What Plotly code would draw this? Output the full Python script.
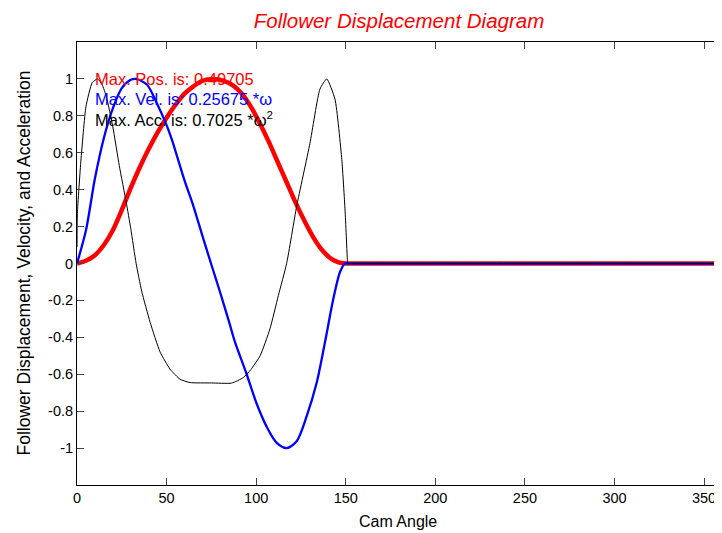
import plotly.graph_objects as go

# Cam angle (deg) and normalised curves
dwell_x = [152, 160, 180, 200, 230, 260, 290, 320, 340, 360]
dwell_y = [0, 0, 0, 0, 0, 0, 0, 0, 0, 0]

pos_x = [0, 5, 10, 15, 20, 25, 30, 35, 40, 45, 50, 55, 60, 65, 70, 76, 82, 87, 92,
         97, 102, 107, 112, 117, 122, 127, 132, 137, 142, 146, 150] + dwell_x
pos_y = [0, 0.015, 0.045, 0.1, 0.18, 0.29, 0.41, 0.52, 0.62, 0.71, 0.79, 0.86, 0.92,
         0.96, 0.99, 1.0, 0.99, 0.965, 0.92, 0.85, 0.76, 0.66, 0.55, 0.44, 0.33, 0.23,
         0.14, 0.07, 0.025, 0.006, 0.0] + dwell_y

vel_x = [0, 5, 10, 15, 20, 25, 30, 33, 39, 44.5, 50, 53, 60, 65, 70, 74.8, 80, 85, 88,
         94.7, 100.3, 105.9, 111.5, 117, 122.6, 128.2, 133.8, 138.4, 143.1, 146.8,
         149.6] + dwell_x
vel_y = [0, 0.18, 0.46, 0.68, 0.84, 0.95, 0.995, 1.0, 0.97, 0.87, 0.75, 0.67, 0.45, 0.31,
         0.15, 0.0, -0.16, -0.32, -0.42, -0.6, -0.76, -0.885, -0.972, -1.0, -0.963,
         -0.827, -0.645, -0.427, -0.19, -0.046, 0.0] + dwell_y

acc_x = [0, 0.2, 2.2, 5, 8.5, 11.5, 14, 16.5, 20, 23.6, 27.5, 30, 33, 36.1, 40.8,
         46.4, 51.9, 57.5, 63.1, 75, 86.3, 92.8, 97, 102.2, 107.7, 112.4, 117, 122.6,
         130, 135.6, 139.4, 144, 147.8, 149.6, 150.9, 151] + dwell_x
acc_y = [0.09, 0.27, 0.56, 0.85, 0.98, 1.0, 0.97, 0.9, 0.74, 0.53, 0.33, 0.19, 0.0,
         -0.15, -0.318, -0.48, -0.572, -0.627, -0.645, -0.647, -0.648, -0.618, -0.575,
         -0.5, -0.354, -0.173, 0.0, 0.31, 0.65, 0.945, 1.0, 0.89, 0.563, 0.29, 0.018,
         0.0] + dwell_y

x_ticks = [0, 50, 100, 150, 200, 250, 300, 350]
y_ticks = [-1, -0.8, -0.6, -0.4, -0.2, 0, 0.2, 0.4, 0.6, 0.8, 1]
y_tick_text = ["-1", "-0.8", "-0.6", "-0.4", "-0.2", "0", "0.2", "0.4", "0.6", "0.8", "1"]

info_lines = ["Max. Pos. is: 0.49705", "Max. Vel. is: 0.25675 *ω",
              "Max. Acc. is: 0.7025 *ω<sup>2</sup>"]
info_colors = ["#ff0000", "#0000ff", "#000000"]
info_y = [1.0, 0.89, 0.785]

FONT = "Liberation Sans, Arial"
PAGE_OFFSET = 8  # default body margin of the html page
W, H = 722 - PAGE_OFFSET, 533 - PAGE_OFFSET

fig = go.Figure()
fig.add_trace(go.Scatter(x=pos_x, y=pos_y, mode="lines",
                         line=dict(color="#ff0000", width=4.5, shape="spline", smoothing=0.8)))
fig.add_trace(go.Scatter(x=vel_x, y=vel_y, mode="lines",
                         line=dict(color="#0000ff", width=2.3, shape="spline", smoothing=0.8)))
fig.add_trace(go.Scatter(x=acc_x, y=acc_y, mode="lines",
                         line=dict(color="#000000", width=1, shape="spline", smoothing=0.5)))

for txt, col, yy in zip(info_lines, info_colors, info_y):
    fig.add_annotation(x=9, y=yy, xref="x", yref="y", text=txt, showarrow=False,
                       xanchor="left", yanchor="middle",
                       font=dict(family=FONT, size=16.5, color=col))

# axis titles
fig.add_annotation(x=(398 - 77) / 645, y=(485 - 521) / 443, xref="paper", yref="paper",
                   text="Cam Angle", showarrow=False, xanchor="center", yanchor="middle",
                   font=dict(family=FONT, size=16, color="#000000"))
fig.add_annotation(x=(23 - 77) / 645, y=0.5, xref="paper", yref="paper",
                   text="Follower Displacement, Velocity, and Acceleration",
                   showarrow=False, textangle=-90, xanchor="center", yanchor="middle",
                   font=dict(family=FONT, size=17.5, color="#000000"))

fig.update_layout(
    width=W, height=H,
    margin=dict(l=77 - PAGE_OFFSET, r=0, t=42 - PAGE_OFFSET, b=533 - 485),
    paper_bgcolor="white", plot_bgcolor="white",
    showlegend=False,
    font=dict(family=FONT, size=14.5, color="#000000"),
    title=dict(text="<i>Follower Displacement Diagram</i>", x=(399 - PAGE_OFFSET) / W,
               xanchor="center", y=1 - (21 - PAGE_OFFSET) / H, yanchor="middle",
               yref="container",
               font=dict(family=FONT, size=20.5, color="#ff0000")),
)
fig.update_xaxes(range=[0, 360], tickvals=x_ticks, ticks="inside", ticklen=7,
                 showline=True, linecolor="black", linewidth=1, mirror="ticks",
                 showgrid=False, zeroline=False, automargin=False,
                 tickfont=dict(size=14.5))
fig.update_yaxes(range=[-1.2, 1.2], tickvals=y_ticks, ticktext=y_tick_text,
                 ticks="inside", ticklen=7,
                 showline=True, linecolor="black", linewidth=1, mirror="ticks",
                 showgrid=False, zeroline=False, automargin=False,
                 tickfont=dict(size=14.5))

fig.write_html("out.html")
